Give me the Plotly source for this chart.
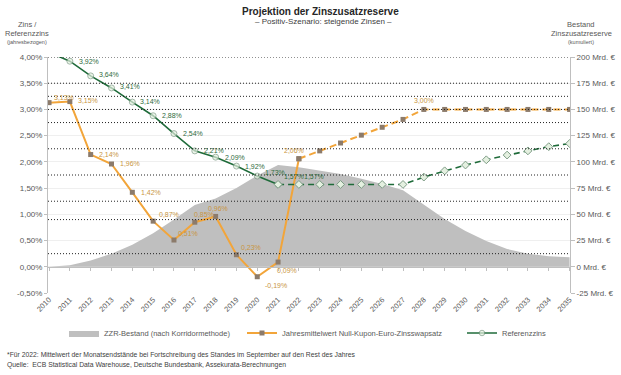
import plotly.graph_objects as go

years = list(range(2010, 2036))
# ZZR-Bestand (Mrd. €)
zzr_bestand = [0, 1.5, 6, 12.5, 21, 32, 45, 59, 65, 75, 87, 97, 95, 92, 88.5, 84, 79, 73,
               59, 45.5, 34, 24.5, 17, 12.5, 10, 9]
# Jahresmittelwert Null-Kupon-Euro-Zinsswapsatz (%)
swap_rate = [3.13, 3.15, 2.14, 1.96, 1.42, 0.87, 0.51, 0.85, 0.96, 0.23, -0.19, 0.09, 2.06,
             2.21, 2.36, 2.51, 2.66, 2.81, 3.00, 3.00, 3.00, 3.00, 3.00, 3.00, 3.00, 3.00]
# Referenzzins (%)
ref_rate = [4.09, 3.92, 3.64, 3.41, 3.14, 2.88, 2.54, 2.21, 2.09, 1.92, 1.73, 1.57, 1.57,
            1.57, 1.57, 1.57, 1.57, 1.57, 1.71, 1.83, 1.94, 2.04, 2.13, 2.21, 2.29, 2.35]
swap_last_actual = 2022
ref_last_actual = 2021

left_ticks = [-0.5, 0, 0.5, 1.0, 1.5, 2.0, 2.5, 3.0, 3.5, 4.0]
right_ticks = [-25, 0, 25, 50, 75, 100, 125, 150, 175, 200]
dotted_levels = [4.0, 3.5, 3.25, 3.0, 2.75, 2.25, 1.75, 1.25, 0.9, 0.25]
left_max = 4.0

# label offsets (xshift, yshift, xanchor)
swap_label_pos = {
    2010: (3, 5, "left"), 2011: (6, 1, "left"), 2012: (6, 0, "left"), 2013: (6, 0, "left"),
    2014: (7, 0, "left"), 2015: (4, 7, "left"), 2016: (2, 7, "left"), 2017: (-3, 8, "left"),
    2018: (2, 8, "center"), 2019: (3, 7, "left"), 2020: (6, -9, "left"), 2021: (-3, -8, "left"),
    2022: (-5, 8, "center"), 2028: (0, 9, "center"),
}
ref_label_pos = {
    2011: (7, 0), 2012: (6, 1), 2013: (6, 1), 2014: (6, 1), 2015: (7, 0), 2016: (7, 0),
    2017: (7, 0), 2018: (7, 0), 2019: (7, 0), 2020: (6, 4), 2021: (4, 8), 2022: (3, 8),
}

FONT = "Liberation Sans, Arial, sans-serif"
ORANGE = "#F2A53A"
ORANGE_MK = "#8C7B6B"
ORANGE_TXT = "#C9953F"
GREEN = "#1F6B3A"
GREEN_TXT = "#2F6B40"
GRAY_TXT = "#595959"

L, R, T, B = 48, 51, 57, 82
W, H = 621, 375


def fmt(v):
    return f"{v:.2f}%".replace(".", ",")


fig = go.Figure()

fig.add_trace(go.Scatter(
    x=years, y=zzr_bestand, yaxis="y", mode="lines", fill="tozeroy",
    fillcolor="#BFBFBF", line=dict(width=0, color="#BFBFBF"),
    name="ZZR-Bestand (nach Korridormethode)", legend="legend", hoverinfo="skip"))

sw_a = [(x, v) for x, v in zip(years, swap_rate) if x <= swap_last_actual]
sw_p = [(x, v) for x, v in zip(years, swap_rate) if x >= swap_last_actual]
fig.add_trace(go.Scatter(
    x=[p[0] for p in sw_a], y=[p[1] for p in sw_a], yaxis="y2", mode="lines+markers",
    line=dict(color=ORANGE, width=2),
    marker=dict(symbol="square", size=5, color=ORANGE_MK),
    name="Jahresmittelwert Null-Kupon-Euro-Zinsswapsatz", legend="legend2"))
fig.add_trace(go.Scatter(
    x=[p[0] for p in sw_p], y=[p[1] for p in sw_p], yaxis="y2", mode="lines+markers",
    line=dict(color=ORANGE, width=2, dash="7px,4px"),
    marker=dict(symbol="square", size=5, color=ORANGE_MK),
    showlegend=False))

rf_a = [(x, v) for x, v in zip(years, ref_rate) if x <= ref_last_actual]
rf_p = [(x, v) for x, v in zip(years, ref_rate) if x >= ref_last_actual]
fig.add_trace(go.Scatter(
    x=[p[0] for p in rf_a], y=[p[1] for p in rf_a], yaxis="y2", mode="lines+markers",
    line=dict(color=GREEN, width=1.6),
    marker=dict(symbol="circle", size=[0 if p[1] > left_max else 6 for p in rf_a],
                color="#E4F0E0", line=dict(color="#7E9C86", width=1)),
    name="Referenzzins", legend="legend3"))
fig.add_trace(go.Scatter(
    x=[p[0] for p in rf_p], y=[p[1] for p in rf_p], yaxis="y2", mode="lines+markers",
    line=dict(color=GREEN, width=1.6, dash="6px,4px"),
    marker=dict(symbol="diamond", size=6, color="#E4F0E0", line=dict(color="#7E9C86", width=1)),
    showlegend=False))

# invisible trace for the 0%-axis with ticks
fig.add_trace(go.Scatter(x=[years[0], years[-1]], y=[0, 0], xaxis="x2", yaxis="y2",
                         mode="lines", line=dict(width=0), showlegend=False, hoverinfo="skip"))

shapes = []
for lv in dotted_levels:
    shapes.append(dict(type="line", xref="paper", x0=0, x1=1, yref="y2", y0=lv, y1=lv,
                       line=dict(color="#222222", width=1, dash="1px,2px"), layer="above"))

annotations = []
for yr, v in zip(years, swap_rate):
    if yr in swap_label_pos:
        dx, dy, xa = swap_label_pos[yr]
        annotations.append(dict(x=yr, y=v, xref="x", yref="y2", text=fmt(v), showarrow=False,
                                xanchor=xa, yanchor="middle", xshift=dx, yshift=dy,
                                font=dict(size=7, color=ORANGE_TXT, family=FONT)))
for yr, v in zip(years, ref_rate):
    if yr in ref_label_pos:
        dx, dy = ref_label_pos[yr]
        annotations.append(dict(x=yr, y=v, xref="x", yref="y2", text=fmt(v), showarrow=False,
                                xanchor="left", yanchor="middle", xshift=dx, yshift=dy,
                                font=dict(size=7, color=GREEN_TXT, family=FONT)))


def paper_x(px):
    return (px - L) / (W - R - L)


def paper_y(py):
    return (H - B - py) / (H - B - T)


extra = [
    dict(text="<b>Projektion der Zinszusatzreserve</b>", x=paper_x(320), y=paper_y(11),
         font=dict(size=10, color="#262626")),
    dict(text="– Positiv-Szenario: steigende Zinsen –", x=paper_x(323), y=paper_y(22),
         font=dict(size=8, color="#404040")),
    dict(text="Zins /", x=paper_x(27), y=paper_y(25), font=dict(size=7.5, color=GRAY_TXT)),
    dict(text="Referenzzins", x=paper_x(27), y=paper_y(33.5), font=dict(size=7.5, color=GRAY_TXT)),
    dict(text="(jahresbezogen)", x=paper_x(27), y=paper_y(41.5), font=dict(size=5.5, color=GRAY_TXT)),
    dict(text="Bestand", x=paper_x(581), y=paper_y(25), font=dict(size=7.5, color=GRAY_TXT)),
    dict(text="Zinszusatzreserve", x=paper_x(581), y=paper_y(33.5), font=dict(size=7.5, color=GRAY_TXT)),
    dict(text="(kumuliert)", x=paper_x(581), y=paper_y(41.5), font=dict(size=5.5, color=GRAY_TXT)),
    dict(text="*Für 2022: Mittelwert der Monatsendstände bei Fortschreibung des Standes im September auf den Rest des Jahres",
         x=paper_x(5), y=paper_y(355), xanchor="left", font=dict(size=6.8, color="#404040")),
    dict(text="Quelle:  ECB Statistical Data Warehouse, Deutsche Bundesbank, Assekurata-Berechnungen",
         x=paper_x(5), y=paper_y(365), xanchor="left", font=dict(size=6.8, color="#404040")),
]
for a in extra:
    a.setdefault("xref", "paper")
    a.setdefault("yref", "paper")
    a.setdefault("showarrow", False)
    a.setdefault("yanchor", "middle")
    a.setdefault("xanchor", "center")
    a["font"]["family"] = FONT
annotations += extra

legend_common = dict(orientation="h", yanchor="middle", xanchor="left", y=paper_y(333),
                     font=dict(size=7.5, color=GRAY_TXT, family=FONT), bgcolor="rgba(0,0,0,0)",
                     itemwidth=30, borderwidth=0)

fig.update_layout(
    template="none",
    width=W, height=H,
    margin=dict(l=L, r=R, t=T, b=B, autoexpand=False),
    paper_bgcolor="white", plot_bgcolor="white",
    font=dict(family=FONT, size=8, color=GRAY_TXT),
    showlegend=True,
    legend=dict(legend_common, x=paper_x(64)),
    legend2=dict(legend_common, x=paper_x(242)),
    legend3=dict(legend_common, x=paper_x(462)),
    xaxis=dict(range=[2009.95, 2035.02], tickvals=years, ticktext=[str(y) for y in years],
               tickangle=-45, showgrid=False, zeroline=False, showline=False, ticks="",
               tickfont=dict(size=7.5, color=GRAY_TXT), anchor="y", automargin=False),
    xaxis2=dict(overlaying="x", matches="x", anchor="free", position=0.5 / 4.5, side="bottom",
                showline=True, linecolor="#BFBFBF", linewidth=1, ticks="outside", ticklen=3,
                tickcolor="#BFBFBF", tickvals=years, showticklabels=False, showgrid=False,
                zeroline=False, automargin=False),
    yaxis=dict(side="right", range=[-25, 200], tickvals=right_ticks,
               ticktext=[f"{v} Mrd. €" for v in right_ticks], showgrid=False, zeroline=False,
               showline=True, linecolor="#BFBFBF", ticks="outside", ticklen=4, tickcolor="#BFBFBF",
               tickfont=dict(size=8, color=GRAY_TXT), automargin=False),
    yaxis2=dict(overlaying="y", side="left", range=[-0.5, 4.0], tickvals=left_ticks,
                ticktext=[fmt(v) for v in left_ticks], showgrid=True, gridcolor="#EFEFEF",
                zeroline=False, showline=True, linecolor="#BFBFBF", ticks="outside", ticklen=3,
                tickcolor="#BFBFBF", tickfont=dict(size=8, color=GRAY_TXT), automargin=False),
    shapes=shapes, annotations=annotations,
)

fig.write_html("out.html", config={"displayModeBar": False},
               post_script="document.body.style.margin='0';document.body.style.padding='0';document.documentElement.style.overflow='hidden';")
